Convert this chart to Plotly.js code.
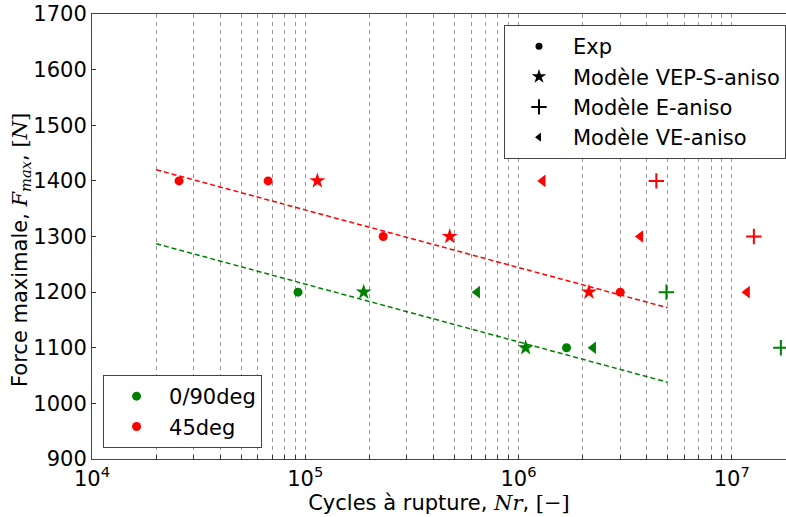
<!DOCTYPE html>
<html>
<head>
<meta charset="utf-8">
<script src="https://cdn.plot.ly/plotly-3.0.1.min.js"></script>
<style>html,body{margin:0;padding:0;background:#fff;}#chart{width:786px;height:517px;}</style>
</head>
<body>
<div id="chart"></div>
<script>
// ---- data ----
const red_exp_x = [2.56e4, 6.7e4, 2.32e5, 3.0e6];
const red_exp_y = [1400, 1400, 1300, 1200];
const red_vep_x = [1.14e5, 4.76e5, 2.14e6];
const red_vep_y = [1400, 1300, 1200];
const red_e_x = [4.43e6, 1.27e7];
const red_e_y = [1400, 1300];
const red_ve_x = [1.30e6, 3.73e6, 1.18e7];
const red_ve_y = [1400, 1300, 1200];

const green_exp_x = [9.25e4, 1.68e6];
const green_exp_y = [1200, 1100];
const green_vep_x = [1.88e5, 1.08e6];
const green_vep_y = [1200, 1100];
const green_e_x = [4.94e6, 1.70e7];
const green_e_y = [1200, 1100];
const green_ve_x = [6.40e5, 2.24e6];
const green_ve_y = [1200, 1100];

const red_fit_x = [2e4, 5e6];
const red_fit_y = [1420, 1172];
const green_fit_x = [2e4, 5e6];
const green_fit_y = [1287, 1038];

const x_tick_vals = [];
const x_tick_text = [];
for (let e = 4; e <= 7; e++) {
  for (let m = 1; m <= 9; m++) {
    x_tick_vals.push(m * Math.pow(10, e));
    x_tick_text.push(m === 1 ? '10<sup>' + e + '</sup>' : '');
  }
}
const y_tick_vals = [900, 1000, 1100, 1200, 1300, 1400, 1500, 1600, 1700];

const model_names = ['Exp', 'Modèle VEP-S-aniso', 'Modèle E-aniso', 'Modèle VE-aniso'];
const orient_names = ['0/90deg', '45deg'];
const y_title = 'Force maximale, <span style="font-family:\'DejaVu Serif\',serif;font-style:italic">F<sub>max</sub></span>, <span style="font-family:\'DejaVu Serif\',serif">[<i>N</i>]</span>';
const x_title = 'Cycles à rupture, <span style="font-family:\'DejaVu Serif\',serif;font-style:italic">Nr</span>, <span style="font-family:\'DejaVu Serif\',serif">[−]</span>';

// ---- styles ----
const RED = '#ff0000', GREEN = '#008000';
const FONT = 'DejaVu Sans, sans-serif';
function mk(sym, color) {
  if (sym === 'circle') return {symbol: 'circle', size: 9, color: color};
  if (sym === 'star') return {symbol: 'star', size: 12, color: color};
  if (sym === 'cross-thin') return {symbol: 'cross-thin', size: 11, color: color, line: {color: color, width: 2}};
  return {symbol: 'triangle-left', size: 11, color: color};
}
function pts(x, y, sym, color) {
  return {x: x, y: y, type: 'scatter', mode: 'markers', marker: mk(sym, color), showlegend: false, hoverinfo: 'skip', cliponaxis: false};
}
const syms = ['circle', 'star', 'cross-thin', 'triangle-left'];

const traces = [
  {x: red_fit_x, y: red_fit_y, type: 'scatter', mode: 'lines', line: {color: RED, width: 1.5, dash: '5px,3px'}, showlegend: false},
  {x: green_fit_x, y: green_fit_y, type: 'scatter', mode: 'lines', line: {color: GREEN, width: 1.5, dash: '5px,3px'}, showlegend: false},
  pts(red_exp_x, red_exp_y, 'circle', RED),
  pts(red_vep_x, red_vep_y, 'star', RED),
  pts(red_e_x, red_e_y, 'cross-thin', RED),
  pts(red_ve_x, red_ve_y, 'triangle-left', RED),
  pts(green_exp_x, green_exp_y, 'circle', GREEN),
  pts(green_vep_x, green_vep_y, 'star', GREEN),
  pts(green_e_x, green_e_y, 'cross-thin', GREEN),
  pts(green_ve_x, green_ve_y, 'triangle-left', GREEN)
];
// legend entries
function legMk(sym, color) {
  const m = mk(sym, color);
  if (sym === 'circle') m.size = 7;
  if (sym === 'star') m.size = 11;
  if (sym === 'cross-thin') m.size = 11;
  if (sym === 'triangle-left') m.size = 8;
  return m;
}
model_names.forEach((n, i) => {
  traces.push({x: [null], y: [null], type: 'scatter', mode: 'markers', name: n, marker: legMk(syms[i], '#000'), legend: 'legend', legendgroup: 'm' + i, showlegend: true});
});
orient_names.forEach((n, i) => {
  traces.push({x: [null], y: [null], type: 'scatter', mode: 'markers', name: n, marker: mk('circle', i === 0 ? GREEN : RED), legend: 'legend2', legendgroup: 'o' + i, showlegend: true});
});

const layout = {
  width: 786, height: 517,
  margin: {l: 92, r: 0, t: 14, b: 58},
  paper_bgcolor: '#fff', plot_bgcolor: '#fff',
  font: {family: FONT, size: 21, color: '#000'},
  xaxis: {
    type: 'log', range: [4, 7.2545], autorange: false, automargin: false,
    tickvals: x_tick_vals, ticktext: x_tick_text, tickangle: 0,
    ticks: 'inside', ticklen: 4, tickcolor: '#333', ticklabelstandoff: 1,
    showgrid: true, gridcolor: '#999', griddash: '4px,4px', gridwidth: 1,
    showline: true, linecolor: '#444', linewidth: 1, mirror: true,
    zeroline: false,
    tickfont: {size: 21, family: FONT},
    title: {text: x_title, font: {size: 21, family: FONT}, standoff: 1}
  },
  yaxis: {
    range: [900, 1700], autorange: false, automargin: false,
    tickvals: y_tick_vals,
    ticks: 'inside', ticklen: 4, tickcolor: '#333',
    showgrid: false, zeroline: false,
    showline: true, linecolor: '#444', linewidth: 1,
    tickfont: {size: 21, family: FONT}
  },
  annotations: [{
    text: y_title, textangle: -90, showarrow: false,
    xref: 'paper', yref: 'paper', x: -0.0807, y: 0.4697,
    xanchor: 'right', yanchor: 'middle',
    font: {size: 21, family: FONT, color: '#000'}
  }],
  legend: {
    x: 1, xanchor: 'right', y: 0.975, yanchor: 'top',
    bgcolor: '#fff', bordercolor: '#444', borderwidth: 1,
    font: {size: 21, family: FONT, color: '#000'},
    traceorder: 'grouped', tracegroupgap: 0, itemwidth: 58
  },
  legend2: {
    x: 0.0159, xanchor: 'left', y: 0.0247, yanchor: 'bottom',
    bgcolor: '#fff', bordercolor: '#444', borderwidth: 1,
    font: {size: 21, family: FONT, color: '#000'},
    traceorder: 'grouped', tracegroupgap: 0, itemwidth: 55
  },
  showlegend: true
};

Plotly.newPlot('chart', traces, layout, {staticPlot: true, displayModeBar: false});
</script>
</body>
</html>
